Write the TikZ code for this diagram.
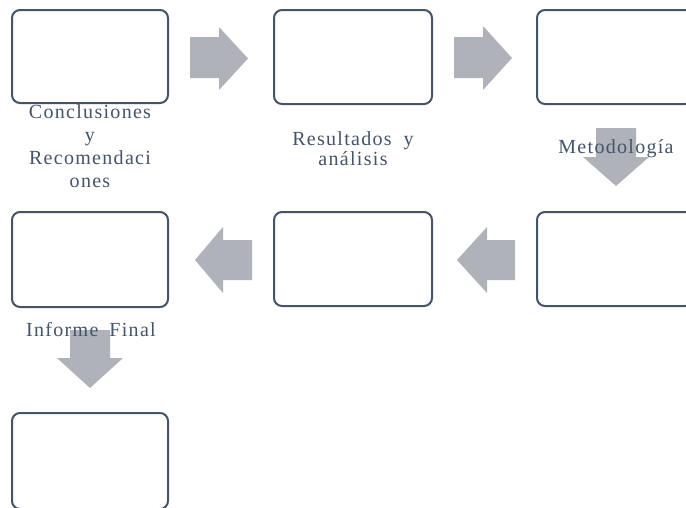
\documentclass[tikz,border=0pt]{standalone}
\usepackage{fontspec}
\setmainfont{Liberation Serif}
\newfontfamily\spacedserif[LetterSpace=6.5]{Liberation Serif}
\definecolor{slate}{RGB}{68,84,106}
\definecolor{arrowgray}{RGB}{175,178,185}
\begin{document}
\begin{tikzpicture}[x=1pt,y=-1pt,
  stagebox/.style={draw=slate,line width=2pt,rounded corners=8pt,fill=white},
  blockarrow/.style={fill=arrowgray,draw=none},
  caption/.style={text=slate,align=center,font=\spacedserif\fontsize{20}{23}\selectfont,inner sep=0pt}]
\clip (0,0) rectangle (686,507);
\fill[white] (0,0) rectangle (686,507);

% stage boxes
\draw[stagebox] (12,10) rectangle (168,103);
\draw[stagebox] (274,10) rectangle (432,104);
\draw[stagebox] (537,10) rectangle (693,104);
\draw[stagebox] (12,212) rectangle (168,307);
\draw[stagebox] (274,212) rectangle (432,306);
\draw[stagebox] (537,212) rectangle (693,306);
\draw[stagebox] (12,413) rectangle (168,509);

% block arrows
\fill[blockarrow] (190,37) -- (219,37) -- (219,27) -- (248,58.5) -- (219,90) -- (219,78) -- (190,78) -- cycle;
\fill[blockarrow] (454,37) -- (483,37) -- (483,26) -- (512,58) -- (483,90) -- (483,78) -- (454,78) -- cycle;
\fill[blockarrow] (596,128) -- (636,128) -- (636,157) -- (649,157) -- (616,186) -- (583,157) -- (596,157) -- cycle;
\fill[blockarrow] (515,240) -- (487,240) -- (487,227) -- (457,260) -- (487,293) -- (487,280) -- (515,280) -- cycle;
\fill[blockarrow] (252,240) -- (223,240) -- (223,227) -- (195,260) -- (223,293) -- (223,280) -- (252,280) -- cycle;
\fill[blockarrow] (70,330) -- (110,330) -- (110,358) -- (123,358) -- (90,388) -- (57,358) -- (70,358) -- cycle;

% captions
\node[caption,anchor=north] (conc) at (90,104.5) {Conclusiones\\y\\Recomendaci\\ones};
\node[caption,anchor=north,font=\spacedserif\fontsize{20}{20}\selectfont] (res) at (353,131.5) {Resultados\hspace{12pt}y\\análisis};
\node[caption,anchor=base] (met) at (616,153) {Metodología};
\node[caption,anchor=base] (inf) at (91,336) {Informe\hspace{11pt}Final};
\end{tikzpicture}
\end{document}
